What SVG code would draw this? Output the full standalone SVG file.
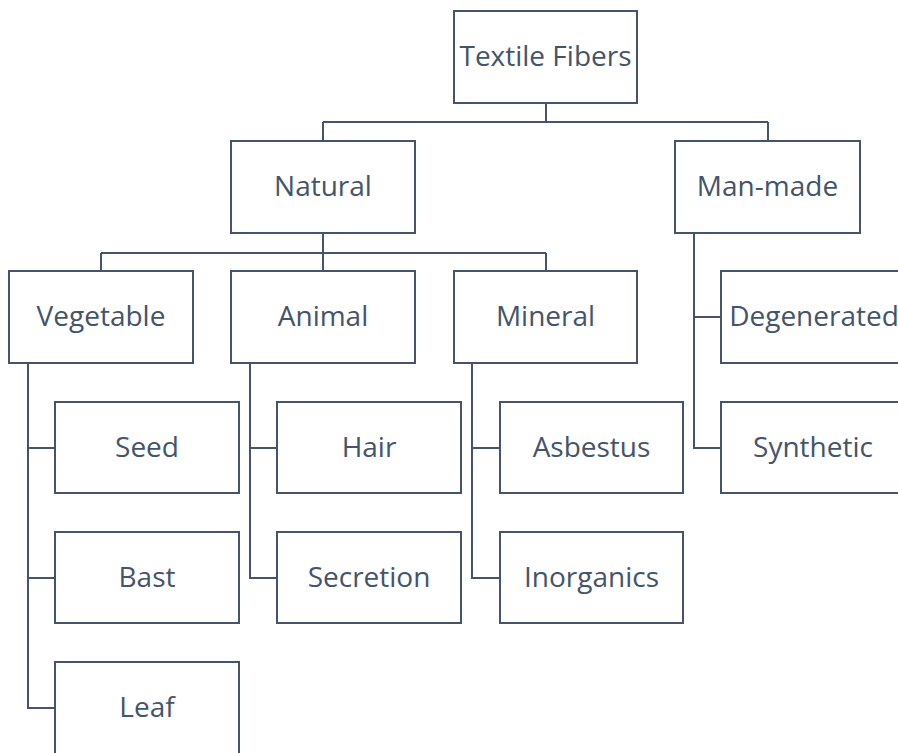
<svg xmlns="http://www.w3.org/2000/svg" width="898" height="753" viewBox="0 0 898 753">
<style>
.box{fill:#ffffff;stroke:#44546A;stroke-width:2}
.lbl{font-family:"Open Sans","Noto Sans",sans-serif;font-size:28px;fill:#44546A;text-anchor:middle}
.con{fill:none;stroke:#44546A;stroke-width:2}
</style>
<rect width="898" height="753" fill="#ffffff"/>
<g id="connectors">
<path class="con" d="M546 103V122M323 122H768M323 122V141M768 122V141"/>
<path class="con" d="M323 233V253M101 253H546M101 253V271M323 253V271M546 253V271"/>
<path class="con" d="M28 363V708H55M28 448H55M28 578H55"/>
<path class="con" d="M250 363V578H277M250 448H277"/>
<path class="con" d="M472 363V578H500M472 448H500"/>
<path class="con" d="M694 233V448H721M694 317H721"/>
</g>
<g id="textile"><rect class="box" x="454" y="11" width="183" height="92"/><text class="lbl" x="545.5" y="66">Textile Fibers</text></g>
<g id="natural"><rect class="box" x="231" y="141" width="184" height="92"/><text class="lbl" x="323" y="196">Natural</text></g>
<g id="manmade"><rect class="box" x="675" y="141" width="185" height="92"/><text class="lbl" x="767.5" y="196">Man-made</text></g>
<g id="vegetable"><rect class="box" x="9" y="271" width="184" height="92"/><text class="lbl" x="101" y="326">Vegetable</text></g>
<g id="animal"><rect class="box" x="231" y="271" width="184" height="92"/><text class="lbl" x="323" y="326">Animal</text></g>
<g id="mineral"><rect class="box" x="454" y="271" width="183" height="92"/><text class="lbl" x="545.5" y="326">Mineral</text></g>
<g id="degenerated"><rect class="box" x="721" y="271" width="184" height="92"/><text class="lbl" x="814" y="326">Degenerated</text></g>
<g id="seed"><rect class="box" x="55" y="402" width="184" height="91"/><text class="lbl" x="147" y="457">Seed</text></g>
<g id="bast"><rect class="box" x="55" y="532" width="184" height="91"/><text class="lbl" x="147" y="587">Bast</text></g>
<g id="leaf"><rect class="box" x="55" y="662" width="184" height="96"/><text class="lbl" x="147" y="717">Leaf</text></g>
<g id="hair"><rect class="box" x="277" y="402" width="184" height="91"/><text class="lbl" x="369" y="457">Hair</text></g>
<g id="secretion"><rect class="box" x="277" y="532" width="184" height="91"/><text class="lbl" x="369" y="587">Secretion</text></g>
<g id="asbestus"><rect class="box" x="500" y="402" width="183" height="91"/><text class="lbl" x="591.5" y="457">Asbestus</text></g>
<g id="inorganics"><rect class="box" x="500" y="532" width="183" height="91"/><text class="lbl" x="591.5" y="587">Inorganics</text></g>
<g id="synthetic"><rect class="box" x="721" y="402" width="184" height="91"/><text class="lbl" x="813" y="457">Synthetic</text></g>
</svg>
